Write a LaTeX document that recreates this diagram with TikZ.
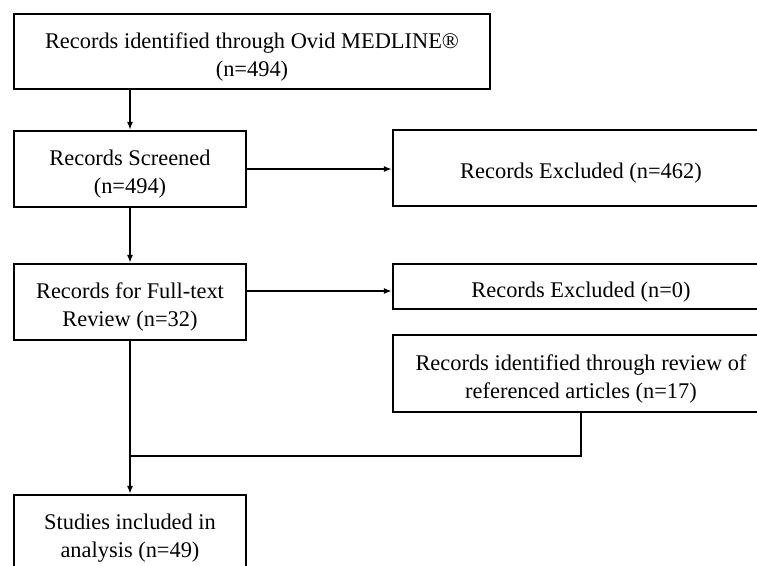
\documentclass[tikz,border=0pt]{standalone}
\usepackage{fontspec}
\setmainfont{Liberation Serif}
\usetikzlibrary{arrows.meta}
\newcommand\mystrut{\rule{0pt}{20pt}}
\begin{document}
\begin{tikzpicture}[x=0.75pt,y=-0.75pt,
  box/.style={draw=black,line width=1.6pt,rectangle,align=center,inner sep=0pt,
    font=\fontsize{16.8pt}{21pt}\selectfont},
  arr/.style={draw=black,line width=1.5pt,-{Latex[length=6pt,width=4.5pt]}},
  conn/.style={draw=black,line width=1.5pt}]
\useasboundingbox (0,0) rectangle (757,565);
\clip (0,0) rectangle (757,565);
\node[box,minimum width=476*0.75pt,minimum height=75*0.75pt] (top) at (252,51.5)
  {\mystrut Records identified through Ovid MEDLINE®\\(n=494)};
\node[box,minimum width=232*0.75pt,minimum height=76*0.75pt] (scr) at (130,169)
  {\mystrut Records Screened\\(n=494)};
\node[box,minimum width=376*0.75pt,minimum height=76*0.75pt] (exca) at (581,168)
  {\mystrut Records Excluded (n=462)};
\node[box,minimum width=232*0.75pt,minimum height=76*0.75pt] (ft) at (130,302)
  {\mystrut Records for Full-text\\Review (n=32)};
\node[box,minimum width=376*0.75pt,minimum height=45*0.75pt] (excb) at (581,286.5)
  {\mystrut Records Excluded (n=0)};
\node[box,minimum width=376*0.75pt,minimum height=77*0.75pt] (ref) at (581,373.5)
  {\mystrut Records identified through review of\\referenced articles (n=17)};
\node[box,minimum width=232*0.75pt,minimum height=76*0.75pt] (stud) at (130,533)
  {\mystrut Studies included in\\analysis (n=49)};
\coordinate (join) at (130,456);
\draw[arr] (top.south -| scr.north) -- (scr.north);
\draw[arr] (scr.east) -- (scr.east -| exca.west);
\draw[arr] (scr.south) -- (ft.north);
\draw[arr] (ft.east |- 0,291) -- (excb.west |- 0,291);
\draw[arr] (ft.south) -- (stud.north);
\draw[conn] (ref.south) |- (join);
\end{tikzpicture}
\end{document}
